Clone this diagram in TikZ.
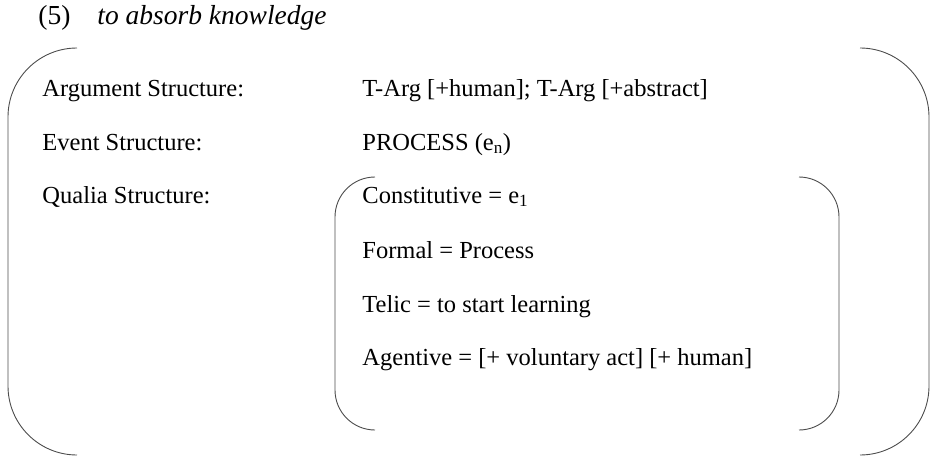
\documentclass[tikz,border=0pt]{standalone}
\usepackage{fontspec}
\setmainfont{Liberation Serif}
\begin{document}
\begin{tikzpicture}[x=1pt, y=-1pt, line width=0.9pt,
    every node/.style={inner sep=0pt, anchor=base west},
    entry/.style={font=\fontsize{24.5}{29}\selectfont},
    heading/.style={font=\fontsize{27.5}{32}\selectfont}]

    \useasboundingbox (0, 0) rectangle (930, 460);

    \def\drawBrackets#1#2#3#4#5{
        % left x, right x, top y, bottom y, corner radius
        \draw [black!70, rounded corners=#5pt] ({#1+#5}, #3) -| (#1, #4) -- ({#1+#5}, #4);
        \draw [black!70, rounded corners=#5pt] ({#2-#5}, #3) -| (#2, #4) -- ({#2-#5}, #4);
    }

    % Example heading
    \node [heading] (num) at (38, 25) {(5)};
    \node [heading, font=\fontsize{27.5}{32}\selectfont\itshape] (title) at (97, 25) {to absorb knowledge};

    % Outer structure
    \drawBrackets{8}{929}{48}{455}{69}
    \node [entry] (argLabel) at (42, 97) {Argument Structure:};
    \node [entry] (evtLabel) at (42, 150) {Event Structure:};
    \node [entry] (qualLabel) at (42, 203) {Qualia Structure:};

    \node [entry] (argVal) at (362, 97) {T-Arg [+human]; T-Arg [+abstract]};
    \node [entry] (evtVal) at (362, 150) {PROCESS (e\textsubscript{n})};

    % Qualia roles
    \drawBrackets{335}{839}{177}{430}{40}
    \node [entry] (const) at (362, 203) {Constitutive = e\textsubscript{1}};
    \node [entry] (formal) at (362, 258) {Formal = Process};
    \node [entry] (telic) at (362, 312) {Telic = to start learning};
    \node [entry] (agent) at (362, 365) {Agentive = [+ voluntary act] [+ human]};
\end{tikzpicture}
\end{document}
